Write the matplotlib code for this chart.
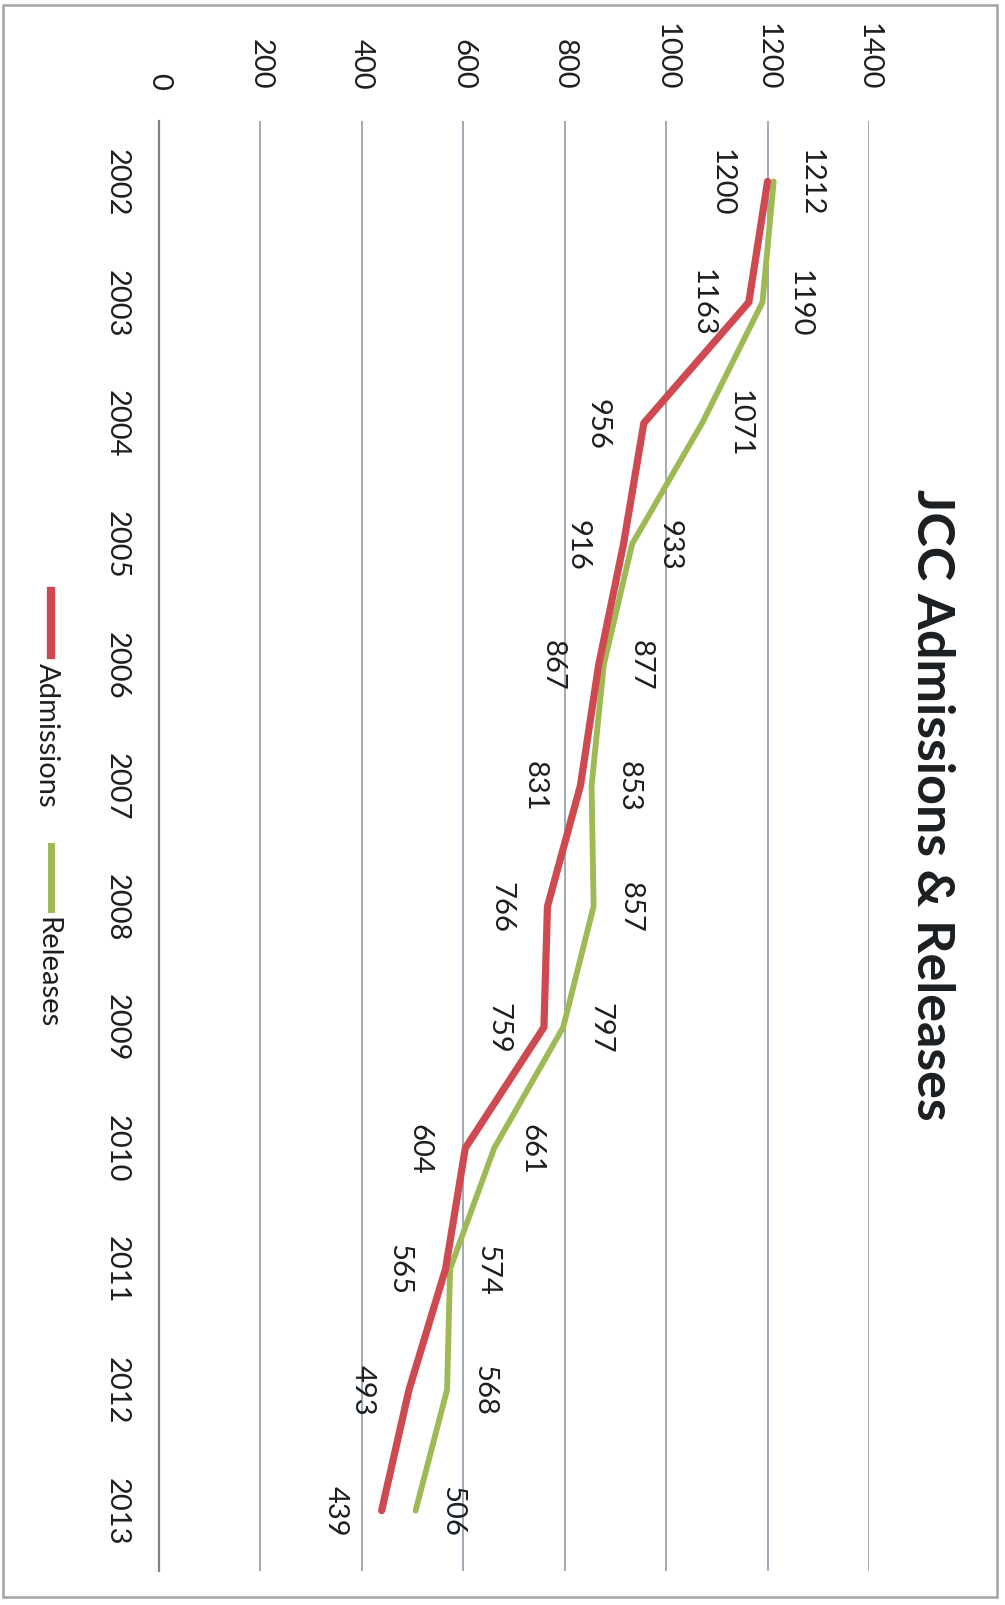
import matplotlib
matplotlib.use("Agg")
import matplotlib.pyplot as plt
from matplotlib.lines import Line2D
from matplotlib.patches import Rectangle

years = ["2002", "2003", "2004", "2005", "2006", "2007",
         "2008", "2009", "2010", "2011", "2012", "2013"]
admissions = [1200, 1163, 956, 916, 867, 831, 766, 759, 604, 565, 493, 439]
releases = [1212, 1190, 1071, 933, 877, 853, 857, 797, 661, 574, 568, 506]
value_ticks = [0, 200, 400, 600, 800, 1000, 1200, 1400]

RED = "#cf4a50"
GREEN = "#9dba55"
TEXT = "#1b1f22"
W, H = 1005, 1606
FS = 21

plt.rcParams["font.family"] = ["Lato", "DejaVu Sans"]


def fx(px):
    return px / W


def fy(py):
    return 1 - py / H


fig = plt.figure(figsize=(W / 100, H / 100), dpi=100)

# the chart is laid on its side: values run left to right, years top to bottom
ax = fig.add_axes([fx(159), fy(1572), (869 - 159) / W, (1572 - 122) / H])
idx = list(range(len(years)))

ax.plot(releases, idx, color=GREEN, lw=4.2, solid_capstyle="round", zorder=3)
ax.plot(admissions, idx, color=RED, lw=5.2, solid_capstyle="round", zorder=4)

for i, v in enumerate(releases):
    ax.annotate(str(v), (v, i), xytext=(37, 0), textcoords="offset pixels",
                rotation=-90, ha="center", va="center", fontsize=FS,
                color=TEXT, zorder=5)
for i, v in enumerate(admissions):
    ax.annotate(str(v), (v, i), xytext=(-46, 0), textcoords="offset pixels",
                rotation=-90, ha="center", va="center", fontsize=FS,
                color=TEXT, zorder=5)

ax.set_xlim(0, 1400)
ax.set_ylim(11.5, -0.5)
ax.set_xticks(value_ticks)
ax.set_xticklabels([str(t) for t in value_ticks], rotation=-90, fontsize=FS,
                   color=TEXT)
ax.xaxis.tick_top()
ax.set_yticks(idx)
ax.set_yticklabels(years, rotation=-90, fontsize=FS, color=TEXT,
                   va="center")
ax.tick_params(axis="x", length=0, pad=23)
ax.tick_params(axis="y", length=0, pad=21)
ax.grid(axis="x", color="#98a4b0", lw=1.3)
ax.set_axisbelow(True)
for side in ["top", "right", "bottom"]:
    ax.spines[side].set_visible(False)
ax.spines["left"].set_color("#7d858e")
ax.spines["left"].set_linewidth(1.6)

fig.text(fx(931), fy(805), "JCC Admissions & Releases", rotation=-90,
         ha="center", va="center", fontsize=37.5, fontweight="bold",
         color=TEXT)

# legend, turned with the rest of the chart
fig.add_artist(Line2D([fx(51), fx(51)], [fy(592), fy(656)], color=RED, lw=6,
                      transform=fig.transFigure))
fig.text(fx(47), fy(663), "Admissions", rotation=-90, ha="center", va="top",
         fontsize=FS, color=TEXT)
fig.add_artist(Line2D([fx(51), fx(51)], [fy(847), fy(910)], color=GREEN, lw=5,
                      transform=fig.transFigure))
fig.text(fx(47), fy(917), "Releases", rotation=-90, ha="center", va="top",
         fontsize=FS, color=TEXT)

fig.add_artist(Rectangle((fx(3), fy(1598)), fx(997) - fx(3), fy(6) - fy(1598),
                         transform=fig.transFigure, fill=False,
                         edgecolor="#a3a3a3", lw=1.8))

fig.savefig("out.png", dpi=100)
